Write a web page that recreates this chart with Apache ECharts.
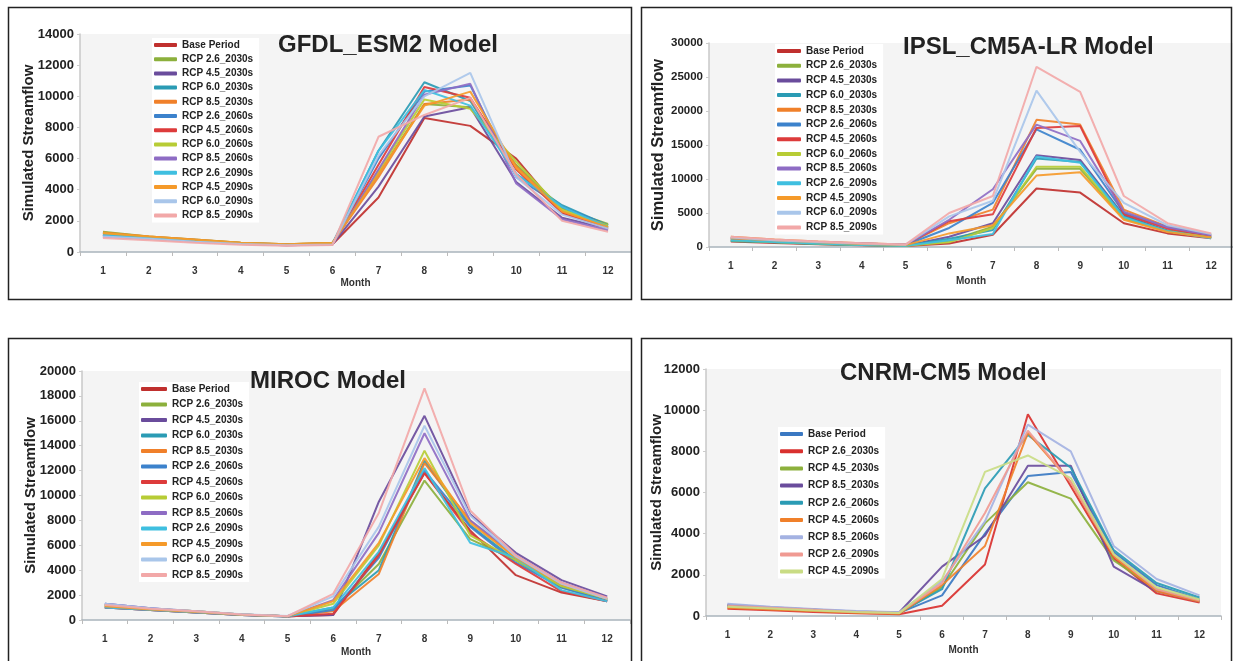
<!DOCTYPE html>
<html>
<head>
<meta charset="utf-8">
<script src="https://cdn.jsdelivr.net/npm/echarts@6/dist/echarts.min.js"></script>
<style>
html,body{margin:0;padding:0;background:#fff;}
#chart{width:1233px;height:661px;}
</style>
</head>
<body>
<div id="chart"></div>
<script>
const months = ['1','2','3','4','5','6','7','8','9','10','11','12'];

const namesMain = ['Base Period','RCP 2.6_2030s','RCP 4.5_2030s','RCP 6.0_2030s','RCP 8.5_2030s',
  'RCP 2.6_2060s','RCP 4.5_2060s','RCP 6.0_2060s','RCP 8.5_2060s',
  'RCP 2.6_2090s','RCP 4.5_2090s','RCP 6.0_2090s','RCP 8.5_2090s'];
const namesCnrm = ['Base Period','RCP 2.6_2030s','RCP 4.5_2030s','RCP 8.5_2030s','RCP 2.6_2060s',
  'RCP 4.5_2060s','RCP 8.5_2060s','RCP 2.6_2090s','RCP 4.5_2090s'];

const titles = ['GFDL_ESM2 Model','IPSL_CM5A-LR Model','MIROC Model','CNRM-CM5 Model'];
const yMaxes = [14000, 30000, 20000, 12000];
const yIntervals = [2000, 5000, 2000, 2000];

// GFDL_ESM2 series (order = namesMain)
const gfdlValues = [
  [1100, 900, 700, 550, 450, 500, 3500, 8600, 8100, 6000, 2500, 1500],
  [1300, 1000, 800, 600, 500, 600, 5000, 9500, 9300, 5600, 2800, 1800],
  [1100, 900, 700, 550, 450, 500, 4200, 8700, 9300, 4500, 2200, 1500],
  [1200, 950, 750, 580, 480, 550, 6500, 10900, 9700, 5000, 3000, 1700],
  [1250, 1000, 800, 600, 500, 600, 4800, 9500, 9800, 5500, 2600, 1600],
  [1100, 900, 700, 550, 460, 520, 6000, 10300, 10700, 4800, 2900, 1700],
  [1000, 850, 680, 530, 440, 500, 5600, 10600, 9900, 5300, 2500, 1500],
  [1200, 950, 760, 580, 470, 560, 5200, 9800, 9200, 5800, 2700, 1700],
  [1000, 850, 660, 520, 430, 480, 5300, 10100, 10800, 4400, 2100, 1400],
  [1100, 900, 700, 540, 450, 520, 6500, 10400, 9400, 5000, 2900, 1600],
  [1200, 1000, 780, 600, 490, 580, 5000, 9400, 10300, 5400, 2600, 1600],
  [1000, 850, 660, 520, 430, 480, 6200, 10000, 11500, 4800, 2400, 1500],
  [900, 750, 600, 470, 400, 450, 7400, 8800, 9900, 5000, 2000, 1300]
];

// IPSL_CM5A-LR series
const ipslValues = [
  [800, 600, 400, 250, 150, 500, 1800, 8600, 8000, 3500, 2000, 1300],
  [900, 700, 450, 280, 170, 900, 3000, 11500, 11500, 4200, 2300, 1400],
  [1000, 800, 500, 300, 200, 1500, 3500, 13500, 12800, 4600, 2400, 1500],
  [900, 700, 450, 280, 180, 1200, 2500, 13000, 12500, 4500, 2400, 1400],
  [1500, 1100, 800, 550, 350, 3500, 5500, 18700, 18000, 5500, 3000, 1800],
  [1200, 900, 650, 450, 300, 2800, 6500, 17300, 14300, 5000, 2900, 1700],
  [1300, 1000, 700, 500, 320, 3800, 4800, 17500, 17800, 4800, 2700, 1600],
  [1000, 750, 500, 300, 200, 700, 2800, 11800, 11800, 4300, 2300, 1400],
  [1300, 1000, 700, 500, 320, 4000, 8500, 18000, 15600, 5200, 2900, 1700],
  [1000, 750, 500, 300, 200, 1000, 1900, 13300, 12400, 4400, 2300, 1300],
  [1300, 1000, 700, 450, 280, 2000, 3200, 10500, 11000, 4000, 2200, 1400],
  [1400, 1000, 750, 520, 330, 4500, 6800, 23000, 14000, 6500, 3200, 1900],
  [1500, 1100, 800, 550, 350, 5000, 7500, 26500, 22800, 7500, 3500, 2000]
];

// MIROC series
const mirocValues = [
  [1000, 800, 600, 400, 300, 400, 5400, 11800, 7200, 3600, 2200, 1500],
  [1200, 900, 700, 450, 300, 900, 4500, 11200, 6500, 4800, 2600, 1600],
  [1300, 950, 650, 450, 300, 400, 9500, 16400, 8500, 5400, 3200, 1900],
  [1100, 850, 650, 430, 300, 1000, 4000, 12800, 7600, 4800, 2700, 1600],
  [1100, 850, 650, 430, 300, 700, 3700, 12600, 8000, 5000, 2800, 1700],
  [1000, 800, 600, 400, 280, 800, 5000, 12000, 7500, 4600, 2600, 1500],
  [1000, 800, 600, 400, 280, 500, 5200, 11800, 7000, 4500, 2300, 1500],
  [1200, 900, 700, 450, 300, 1300, 6000, 13600, 6800, 4800, 2700, 1700],
  [1300, 950, 700, 450, 300, 1600, 7000, 15000, 8000, 5200, 3000, 1800],
  [1000, 800, 600, 400, 280, 1000, 5500, 12200, 6200, 5000, 2400, 1500],
  [1100, 850, 650, 430, 300, 1500, 6200, 13000, 7800, 5000, 2900, 1700],
  [1300, 950, 700, 460, 320, 1900, 7500, 15600, 8400, 5100, 2900, 1700],
  [1200, 900, 700, 450, 300, 2100, 8600, 18600, 8800, 5200, 3000, 1800]
];

// CNRM-CM5 series (order = namesCnrm)
const cnrmValues = [
  [500, 400, 300, 200, 150, 1000, 4000, 6800, 7000, 3100, 1500, 800],
  [350, 280, 200, 130, 80, 500, 2500, 9800, 6300, 2800, 1100, 650],
  [450, 350, 260, 180, 130, 1400, 4500, 6500, 5700, 2700, 1300, 750],
  [550, 420, 320, 220, 170, 2400, 3900, 7300, 7300, 2400, 1200, 700],
  [500, 400, 300, 200, 150, 1300, 6200, 8800, 7200, 3200, 1600, 900],
  [400, 320, 240, 160, 110, 1500, 3400, 8900, 6500, 2900, 1200, 700],
  [600, 450, 340, 240, 180, 1700, 4600, 9300, 8000, 3400, 1800, 1000],
  [500, 400, 300, 200, 150, 1600, 5000, 9000, 6500, 3000, 1300, 750],
  [450, 360, 270, 190, 140, 1800, 7000, 7800, 6700, 3000, 1400, 800]
];

const colorsMain = ['#c0302e','#8cb03c','#6a4c9c','#2a9bb4','#f0802a','#3c82cc','#dd3b3b',
  '#b7cc35','#8e6cc4','#3fbfe0','#f59a2a','#a9c6ea','#f2a8a8'];
const colorsCnrm = ['#3a78c2','#d9302e','#8cb03c','#6a4c9c','#2a9bb4','#f0802a','#a4b2e2','#f09a92','#c9dc84'];

const FONT = "'Liberation Sans', Arial, sans-serif";

const panels = [
  {names: namesMain, values: gfdlValues, colors: colorsMain,
   grid: {left: 80, top: 34, width: 551, height: 218},
   yLabel: 13, yName: 15, yNameGap: 44, xNameGap: 26,
   title: {left: 278, top: 33},
   legend: {left: 152, top: 38, itemWidth: 23, itemGap: 4.2}},
  {names: namesMain, values: ipslValues, colors: colorsMain,
   grid: {left: 709, top: 43, width: 534, height: 204},
   yLabel: 11.5, yName: 16.5, yNameGap: 42, xNameGap: 29,
   title: {left: 903, top: 35},
   legend: {left: 775, top: 44, itemWidth: 24, itemGap: 4.7}},
  {names: namesMain, values: mirocValues, colors: colorsMain,
   grid: {left: 82, top: 371, width: 548, height: 249},
   yLabel: 13, yName: 15, yNameGap: 44, xNameGap: 27,
   title: {left: 250, top: 369},
   legend: {left: 139, top: 382, itemWidth: 26, itemGap: 5.5}},
  {names: namesCnrm, values: cnrmValues, colors: colorsCnrm,
   grid: {left: 706, top: 369, width: 515, height: 247},
   yLabel: 13, yName: 15, yNameGap: 42, xNameGap: 29,
   title: {left: 840, top: 361},
   legend: {left: 778, top: 427, itemWidth: 23, itemGap: 7.2}}
];

const option = {
  backgroundColor: '#fff',
  animation: false,
  title: [], grid: [], xAxis: [], yAxis: [], legend: [], series: [],
  graphic: [
    {type: 'rect', shape: {x: 8.5, y: 7.5, width: 623, height: 292}, style: {fill: 'none', stroke: '#222', lineWidth: 1.5}, z: 100},
    {type: 'rect', shape: {x: 641.5, y: 7.5, width: 590, height: 292}, style: {fill: 'none', stroke: '#222', lineWidth: 1.5}, z: 100},
    {type: 'rect', shape: {x: 8.5, y: 338.5, width: 623, height: 330}, style: {fill: 'none', stroke: '#222', lineWidth: 1.5}, z: 100},
    {type: 'rect', shape: {x: 641.5, y: 338.5, width: 590, height: 330}, style: {fill: 'none', stroke: '#222', lineWidth: 1.5}, z: 100}
  ]
};

panels.forEach((p, i) => {
  option.title.push({
    text: titles[i], left: p.title.left, top: p.title.top, padding: 0,
    textStyle: {fontFamily: FONT, fontSize: 24, fontWeight: 'bold', color: '#222'}
  });
  option.grid.push(Object.assign({show: true, backgroundColor: '#f4f4f4', borderWidth: 0}, p.grid));
  option.xAxis.push({
    type: 'category', gridIndex: i, data: months, boundaryGap: true,
    name: 'Month', nameLocation: 'middle', nameGap: p.xNameGap, nameMoveOverlap: false,
    nameTextStyle: {fontFamily: FONT, fontSize: 10, fontWeight: 'bold', color: '#333'},
    axisLine: {lineStyle: {color: '#a9b4bc', width: 1.5}},
    axisTick: {show: true, length: 4, lineStyle: {color: '#bbb'}},
    axisLabel: {fontFamily: FONT, fontSize: 10, fontWeight: 'bold', color: '#333', margin: 14}
  });
  option.yAxis.push({
    type: 'value', gridIndex: i, min: 0, max: yMaxes[i], interval: yIntervals[i],
    name: 'Simulated Streamflow', nameLocation: 'middle', nameRotate: 90, nameGap: p.yNameGap,
    nameMoveOverlap: false,
    nameTextStyle: {fontFamily: FONT, fontSize: p.yName, fontWeight: 'bold', color: '#222'},
    axisLine: {show: true, lineStyle: {color: '#c9c9c9', width: 1.5}},
    axisTick: {show: true, length: 3, lineStyle: {color: '#ccc'}},
    splitLine: {show: false},
    axisLabel: {fontFamily: FONT, fontSize: p.yLabel, fontWeight: 'bold', color: '#222', margin: 6,
      formatter: v => String(v)}
  });
  option.legend.push({
    orient: 'vertical', left: p.legend.left, top: p.legend.top,
    icon: 'roundRect',
    itemWidth: p.legend.itemWidth, itemHeight: 4, itemGap: p.legend.itemGap,
    padding: [2, 6, 2, 2], backgroundColor: '#fff',
    data: p.names.map(n => n + '@' + i),
    formatter: name => name.split('@')[0],
    textStyle: {fontFamily: FONT, fontSize: 10, fontWeight: 'bold', color: '#222', lineHeight: 10}
  });
  p.values.forEach((vals, k) => {
    option.series.push({
      type: 'line', name: p.names[k] + '@' + i,
      xAxisIndex: i, yAxisIndex: i,
      data: vals, symbol: 'none', showSymbol: false,
      lineStyle: {width: 2, color: p.colors[k], opacity: 0.92},
      itemStyle: {color: p.colors[k]}
    });
  });
});

const chart = echarts.init(document.getElementById('chart'), null, {renderer: 'canvas'});
chart.setOption(option);
</script>
</body>
</html>
